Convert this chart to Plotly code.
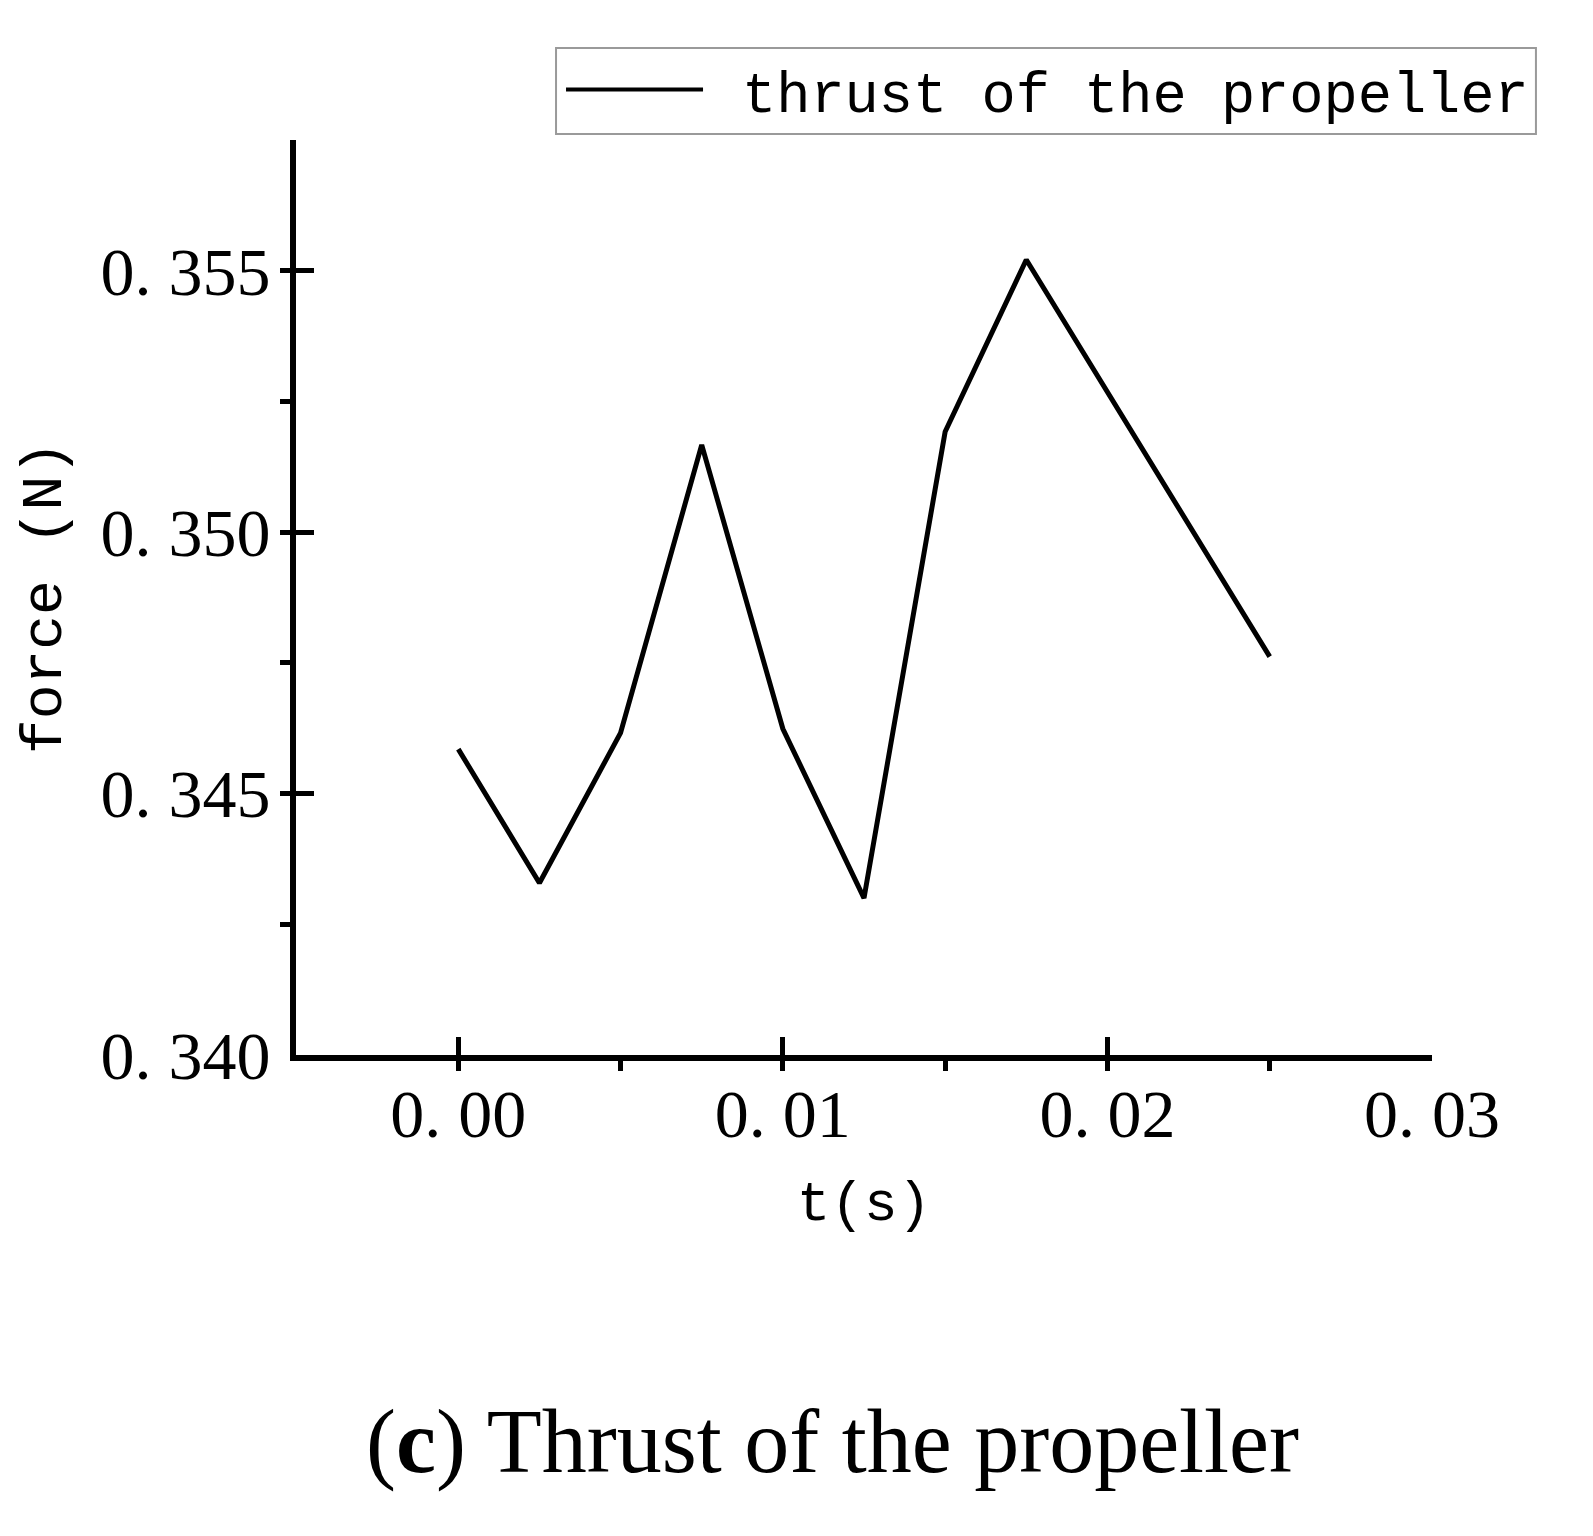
import plotly.graph_objects as go

# ---- data ----
t_s = [0.0, 0.0025, 0.005, 0.0075, 0.01, 0.0125, 0.015, 0.0175, 0.025]
force_N = [0.34585, 0.34329, 0.34616, 0.35167, 0.34624, 0.34300, 0.35192, 0.35521, 0.34762]
series_name = "thrust of the propeller"

x_tickvals = [0.0, 0.01, 0.02, 0.03]
x_ticktext = ["0. 00", "0. 01", "0. 02", "0. 03"]
y_tickvals = [0.340, 0.345, 0.350, 0.355]
y_ticktext = ["0. 340", "0. 345", "0. 350", "0. 355"]

x_title = "t(s)"
y_title = "force (N)"
caption = "(<b>c</b>) Thrust of the propeller"

MONO = "Liberation Mono, Courier New, monospace"
SERIF = "Liberation Serif, Times New Roman, serif"

fig = go.Figure()
fig.add_trace(go.Scatter(
    x=t_s, y=force_N, mode="lines", name=series_name,
    line=dict(color="black", width=5), showlegend=False,
))

axis_common = dict(
    showline=True, linecolor="black", linewidth=6,
    showgrid=False, zeroline=False,
    ticks="inside", ticklen=18, tickwidth=5, tickcolor="black",
    tickfont=dict(family=SERIF, size=68, color="black"),
)

fig.update_xaxes(
    range=[-0.005, 0.03], tickmode="array",
    tickvals=x_tickvals, ticktext=x_ticktext,
    ticklabelstandoff=-6,
    minor=dict(ticks="outside", dtick=0.005, tick0=0, ticklen=10, tickwidth=5, tickcolor="black", showgrid=False),
    title=dict(text=x_title, font=dict(family=MONO, size=56, color="black"), standoff=32),
    **axis_common,
)
fig.update_yaxes(
    range=[0.340, 0.3575], tickmode="array",
    tickvals=y_tickvals, ticktext=y_ticktext,
    ticklabelstandoff=6,
    minor=dict(ticks="outside", dtick=0.0025, tick0=0.340, ticklen=10, tickwidth=5, tickcolor="black", showgrid=False),
    title=dict(text=y_title, font=dict(family=MONO, size=58, color="black"), standoff=22),
    **axis_common,
)

# legend drawn as a framed key above the plot area
fig.add_shape(type="rect", xref="paper", yref="paper",
              x0=0.2289, x1=1.0915, y0=1.0066, y1=1.1005,
              line=dict(color="#9a9a9a", width=2), fillcolor="white")
fig.add_shape(type="line", xref="paper", yref="paper",
              x0=0.2377, x1=0.3583, y0=1.0553, y1=1.0553,
              line=dict(color="black", width=4))
fig.add_annotation(text=series_name, xref="paper", yref="paper",
                   x=0.3908, y=1.0475, xanchor="left", yanchor="middle",
                   showarrow=False, font=dict(family=MONO, size=57, color="black"))

fig.add_annotation(text=caption, xref="paper", yref="paper",
                   x=0.4727, y=-0.423, xanchor="center", yanchor="middle",
                   showarrow=False, font=dict(family=SERIF, size=90, color="black"))

fig.update_layout(
    width=1593, height=1536,
    margin=dict(l=288, r=169, t=132, b=489),
    paper_bgcolor="white", plot_bgcolor="white",
    showlegend=False,
)

fig.write_html("out.html")
